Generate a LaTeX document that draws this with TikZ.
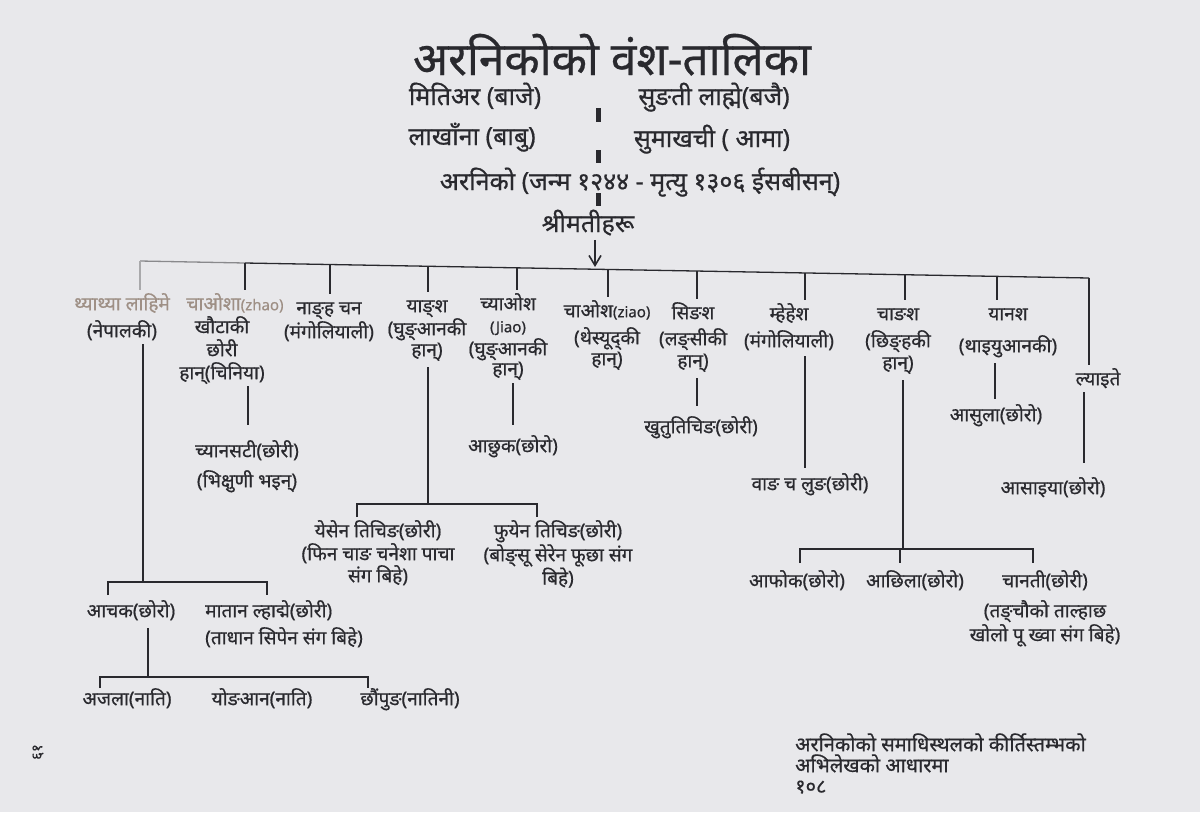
\documentclass[tikz,border=0pt]{standalone}
\usepackage{fontspec}
\newfontfamily\dev[Script=Devanagari,FakeBold=0.6]{Noto Sans}
\usetikzlibrary{arrows.meta}
\definecolor{ink}{rgb}{0.16,0.16,0.18}
\definecolor{paper}{rgb}{0.91,0.91,0.92}
\definecolor{fade}{rgb}{0.62,0.56,0.52}
\newcommand\tl{\rule{0pt}{20pt}}
\newcommand\lat[1]{{\fontsize{15}{16}\selectfont #1}}
\begin{document}
\begin{tikzpicture}[x=1pt,y=-1pt,
  lbl/.style={font=\dev\fontsize{19}{22}\selectfont, text=ink, align=center, anchor=north, inner sep=0pt},
  head/.style={lbl, font=\dev\fontsize{25}{28}\selectfont, anchor=base},
  ln/.style={draw=ink, line width=1.3pt},
  bar/.style={draw=ink, line width=5pt}]
\fill[paper] (0,0) rectangle (1200,812);
\useasboundingbox (0,0) rectangle (1200,812);

% heading
\node[lbl, font=\dev\fontsize{46}{50}\selectfont, anchor=base] (title) at (612,75) {अरनिकोको वंश-तालिका};
\node[head] (baje) at (475,105) {मितिअर (बाजे)};
\node[head] (bajai) at (714,105) {सुङती लाह्मे(बजै)};
\node[head] (babu) at (472,145) {लाखाँना (बाबु)};
\node[head] (aama) at (712,147) {सुमाखची ( आमा)};
\node[head] (arn) at (640,190) {अरनिको (जन्म १२४४ - मृत्यु १३०६ ईसबीसन्)};
\node[head] (shri) at (588,232) {श्रीमतीहरू};

\draw[bar] (598,108) -- (598,122);
\draw[bar] (598,150) -- (598,163);
\draw[bar] (598,193) -- (598,206);

% bus
\coordinate (bL) at (140,261);
\coordinate (bR) at (1089,278);
\draw[ln, draw=ink!55] (bL) -- (245,263);
\draw[ln] (245,263) -- (bR);
\coordinate (arrEnd) at (595,267);
\draw[ln, line width=1.6pt, -{Straight Barb[length=10pt,width=12pt,line width=1.6pt]}] (shri.south -| arrEnd) ++(0,4) -- (arrEnd);

% wives
\node[lbl] (w1) at (122,290) {{\tl\color{fade}थ्याथ्या लाहिमे}\\[5pt](नेपालकी)};
\node[lbl] (w2) at (222,290) {{\tl\color{fade}\hspace*{26pt}चाओशा\lat{(zhao)}}\\[1pt]खौटाकी\\[1pt]छोरी\\[1pt]हान्(चिनिया)};
\node[lbl] (w3) at (329,294) {\tl नाङ्ह चन\\[1pt](मंगोलियाली)};
\node[lbl] (w4) at (427,292) {\tl याङ्श\\(घुङ्आनकी\\[-1pt]हान्)};
\node[lbl] (w5) at (508,290) {\tl च्याओश\\\lat{(Jiao)}\\[1pt](घुङ्आनकी\\[-2pt]हान्)};
\node[lbl] (w6) at (607,297) {\tl चाओश\lat{(ziao)}\\[5pt](थेस्यूद्की\\[-1pt]हान्)};
\node[lbl] (w7) at (693,299) {\tl सिङश\\[4pt](लङ्सीकी\\हान्)};
\node[lbl] (w8) at (789,300) {\tl म्हेहेश\\[5pt](मंगोलियाली)};
\node[lbl] (w9) at (898,300) {\tl चाङश\\[5pt](छिङ्हकी\\हान्)};
\node[lbl] (w10) at (1008,300) {\tl यानश\\[10pt](थाइयुआनकी)};
\node[lbl] (w11) at (1098,365) {\tl ल्याइते};

\draw[ln, draw=ink!40] (bL) -- (bL |- w1.north);
\foreach \w/\x/\y in {w2/245/263, w3/330/264, w4/428/266, w5/517/268, w6/608/269, w7/697/271, w8/805/273, w9/905/275, w10/997/276, w11/1089/278}
  \draw[ln] (\x,\y) -- (\x,0 |- \w.north);

% children
\node[lbl] (c2) at (247,437) {\tl च्यानसटी(छोरी)\\[8pt](भिक्षुणी भइन्)};
\node[lbl] (c4a) at (378,517) {\tl येसेन तिचिङ(छोरी)\\[1pt](फिन चाङ चनेशा पाचा\\संग बिहे)};
\node[lbl] (c4b) at (558,517) {\tl फुयेन तिचिङ(छोरी)\\[1pt](बोङ्सू सेरेन फूछा संग\\बिहे)};
\node[lbl] (c5) at (513,432) {\tl आछुक(छोरो)};
\node[lbl] (c7) at (701,413) {\tl खुतुतिचिङ(छोरी)};
\node[lbl] (c8) at (810,470) {\tl वाङ च लुङ(छोरी)};
\node[lbl] (c9a) at (797,567) {\tl आफोक(छोरो)};
\node[lbl] (c9b) at (915,567) {\tl आछिला(छोरो)};
\node[lbl] (c9c) at (1045,567) {\tl चानती(छोरी)\\[8pt](तङ्चौको ताल्हाछ\\[1pt]खोलो पू ख्वा संग बिहे)};
\node[lbl] (c10) at (996,401) {\tl आसुला(छोरो)};
\node[lbl] (c11) at (1053,474) {\tl आसाइया(छोरो)};
\node[lbl] (c1a) at (131,597) {\tl आचक(छोरो)};
\node[lbl, align=left, anchor=north west] (c1b) at (205,597) {\tl मातान ल्हाद्मे(छोरी)\\[5pt](ताधान सिपेन संग बिहे)};
\node[lbl] (g1) at (127,685) {\tl अजला(नाति)};
\node[lbl] (g2) at (262,685) {\tl योङआन(नाति)};
\node[lbl] (g3) at (410,685) {\tl छौंपुङ(नातिनी)};

% connectors to children
\coordinate (k1) at (143,582);
\coordinate (k1L) at (108,582);
\coordinate (k1R) at (267,582);
\draw[ln, shorten <=4pt] (w1.south -| k1) -- (k1);
\draw[ln] (k1L |- c1a.north) ++(0,-2) -- (k1L) -- (k1R) -- ++(0,13);

\coordinate (k2) at (148,677);
\coordinate (k2L) at (100,677);
\coordinate (k2R) at (368,677);
\draw[ln, shorten <=8pt] (c1a.south -| k2) -- (k2);
\draw[ln] (k2L) ++(0,11) -- (k2L) -- (k2R) -- ++(0,11);

\coordinate (k3) at (248,0);
\draw[ln, shorten <=2pt, shorten >=12pt] (w2.south -| k3) -- (c2.north -| k3);

\coordinate (k4) at (428,504);
\coordinate (k4L) at (357,504);
\coordinate (k4R) at (537,504);
\draw[ln, shorten <=6pt] (w4.south -| k4) -- (k4);
\draw[ln] (k4L) ++(0,13) -- (k4L) -- (k4R) -- ++(0,13);

\coordinate (k5) at (513,0);
\draw[ln, shorten <=3pt, shorten >=7pt] (w5.south -| k5) -- (c5.north -| k5);
\coordinate (k7) at (697,0);
\draw[ln, shorten <=6pt, shorten >=7pt] (w7.south -| k7) -- (c7.north -| k7);
\coordinate (k8) at (805,0);
\draw[ln, shorten <=6pt, shorten >=2pt] (w8.south -| k8) -- (c8.north -| k8);

\coordinate (k9) at (903,549);
\coordinate (k9L) at (800,549);
\coordinate (k9R) at (1033,549);
\draw[ln, shorten <=6pt] (w9.south -| k9) -- (k9);
\draw[ln] (k9L) ++(0,14) -- (k9L) -- (k9R) -- ++(0,14);
\draw[ln] (900,549) -- ++(0,14);

\coordinate (k10) at (995,0);
\draw[ln, shorten <=6pt, shorten >=2pt] (w10.south -| k10) -- (c10.north -| k10);
\coordinate (k11) at (1084,0);
\draw[ln, shorten <=4pt, shorten >=11pt] (w11.south -| k11) -- (c11.north -| k11);

% note
\node[lbl, align=left, anchor=north west, font=\dev\fontsize{20}{21}\selectfont] (note) at (795,731)
  {\tl अरनिकोको समाधिस्थलको कीर्तिस्तम्भको\\अभिलेखको आधारमा\\१०८};
\node[lbl, anchor=center, rotate=90, font=\dev\fontsize{15}{18}\selectfont] (pg) at (38,752) {६१};
\end{tikzpicture}
\end{document}
